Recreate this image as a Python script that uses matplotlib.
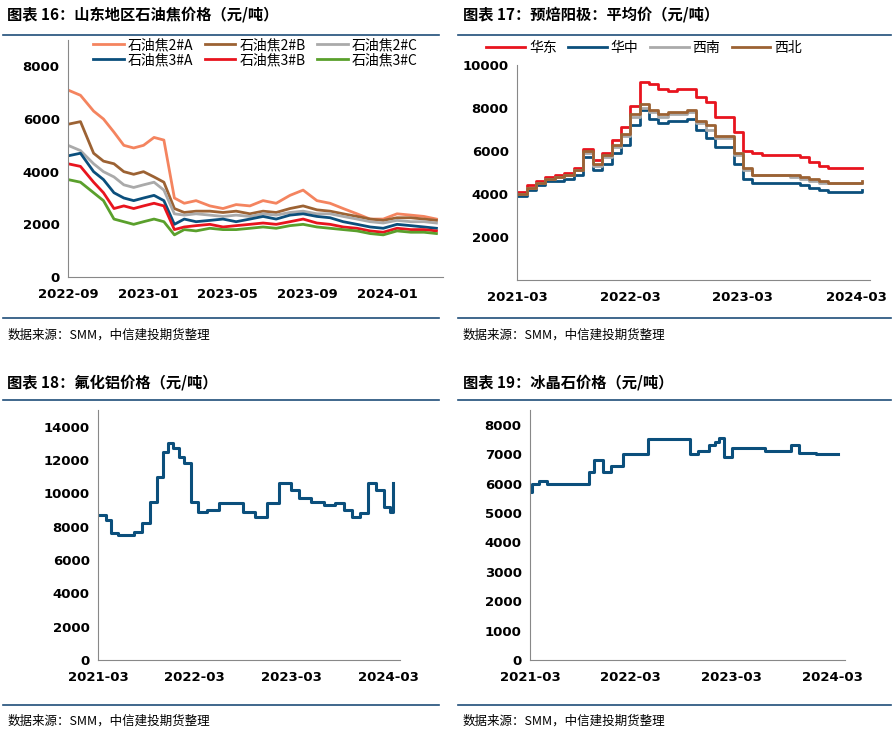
import matplotlib
matplotlib.use('Agg')
import matplotlib.pyplot as plt
import matplotlib.dates as mdates
import pandas as pd

plt.rcParams['font.family'] = ['Noto Sans CJK SC']

# ---- panel 16: petroleum coke, Shandong ----
coke_dates = ['2022-09-01','2022-09-20','2022-10-10','2022-10-25','2022-11-10','2022-11-25','2022-12-10',
              '2022-12-25','2023-01-10','2023-01-25','2023-02-10','2023-02-25','2023-03-15','2023-04-05',
              '2023-04-25','2023-05-15','2023-06-05','2023-06-25','2023-07-15','2023-08-05','2023-08-25',
              '2023-09-15','2023-10-05','2023-10-25','2023-11-15','2023-12-05','2023-12-25','2024-01-15',
              '2024-02-05','2024-02-25','2024-03-15']
coke_2a = [7100,6900,6300,6000,5500,5000,4900,5000,5300,5200,3000,2800,2900,2700,2600,2750,2700,2900,2800,3100,3300,
           2900,2800,2600,2400,2200,2200,2400,2350,2300,2200]
coke_2b = [5800,5900,4700,4400,4300,4000,3900,4000,3800,3600,2600,2450,2500,2500,2450,2500,2400,2500,2450,2600,2700,
           2550,2500,2400,2300,2200,2150,2250,2250,2200,2150]
coke_2c = [5000,4800,4300,4000,3800,3500,3400,3500,3600,3300,2400,2350,2400,2350,2300,2350,2300,2400,2350,2450,2500,
           2400,2400,2300,2200,2100,2050,2150,2100,2100,2050]
coke_3a = [4600,4700,4000,3700,3200,3000,2900,3000,3100,2900,2000,2200,2100,2150,2200,2100,2200,2300,2200,2350,2400,
           2300,2250,2100,2000,1900,1850,2000,1950,1900,1850]
coke_3b = [4300,4200,3600,3200,2600,2700,2600,2700,2800,2700,1800,1900,1950,2000,1900,1950,2000,2050,2000,2100,2200,
           2050,2000,1900,1850,1750,1700,1850,1800,1800,1750]
coke_3c = [3700,3600,3200,2900,2200,2100,2000,2100,2200,2100,1600,1800,1750,1850,1800,1800,1850,1900,1850,1950,2000,
           1900,1850,1800,1750,1650,1600,1750,1700,1700,1650]

# ---- panel 17: prebaked anode ----
anode_dates = ['2021-03-01','2021-04-01','2021-05-01','2021-06-01','2021-07-01','2021-08-01','2021-09-01','2021-10-01',
               '2021-11-01','2021-12-01','2022-01-01','2022-02-01','2022-03-01','2022-04-01','2022-05-01','2022-06-01',
               '2022-07-01','2022-08-01','2022-09-01','2022-10-01','2022-11-01','2022-12-01','2023-01-01','2023-02-01',
               '2023-03-01','2023-04-01','2023-05-01','2023-06-01','2023-07-01','2023-08-01','2023-09-01','2023-10-01',
               '2023-11-01','2023-12-01','2024-01-01','2024-02-01','2024-03-01','2024-03-20']
anode_east = [4100,4400,4600,4800,4900,5000,5200,6100,5600,5900,6500,7100,8100,9200,9100,8900,8800,8900,8900,8500,8300,
              7600,7600,6900,6000,5900,5800,5800,5800,5800,5700,5500,5300,5200,5200,5200,5200,5200]
anode_central = [3900,4200,4400,4600,4600,4700,4900,5700,5100,5400,5900,6300,7200,7900,7500,7300,7400,7400,7500,7000,6600,
                 6200,6200,5400,4700,4500,4500,4500,4500,4500,4400,4300,4200,4100,4100,4100,4100,4200]
anode_sw = [4000,4300,4500,4700,4800,4900,5100,5900,5300,5700,6200,6700,7600,8000,7800,7600,7700,7700,7800,7300,7000,
            6600,6600,5800,5100,4900,4900,4900,4900,4800,4700,4600,4500,4500,4500,4500,4500,4500]
anode_nw = [4000,4300,4500,4700,4800,4900,5100,6000,5400,5800,6300,6800,7700,8200,7900,7700,7800,7800,7900,7400,7200,
            6700,6700,5900,5200,4900,4900,4900,4900,4900,4800,4700,4600,4500,4500,4500,4500,4600]

# ---- panel 18: aluminium fluoride ----
alf_dates = ['2021-03-01','2021-04-01','2021-04-20','2021-05-15','2021-06-15','2021-07-15','2021-08-15','2021-09-15',
             '2021-10-10','2021-11-01','2021-11-20','2021-12-10','2022-01-01','2022-01-20','2022-02-15','2022-03-15',
             '2022-04-15','2022-06-01','2022-08-01','2022-09-01','2022-10-15','2022-12-01','2023-01-15','2023-03-01',
             '2023-04-01','2023-05-15','2023-07-01','2023-08-15','2023-09-15','2023-10-15','2023-11-15','2023-12-15',
             '2024-01-15','2024-02-15','2024-03-10','2024-03-20']
alf_val = [8700,8400,7600,7500,7500,7700,8200,9500,11000,12500,13000,12700,12200,11800,9500,8900,9000,9400,9400,8900,8600,
           9400,10600,10200,9700,9500,9300,9400,9000,8600,8800,10600,10200,9200,8900,10600]

# ---- panel 19: cryolite ----
cry_dates = ['2021-03-01','2021-03-10','2021-04-01','2021-05-01','2021-08-01','2021-10-01','2021-10-20','2021-11-20',
             '2021-12-20','2022-02-01','2022-03-01','2022-05-01','2022-09-01','2022-10-01','2022-11-01','2022-12-10',
             '2023-01-01','2023-01-15','2023-02-01','2023-03-01','2023-05-01','2023-07-01','2023-10-01','2023-11-01',
             '2024-01-01','2024-03-20']
cry_val = [5700,6000,6100,6000,6000,6400,6800,6400,6600,7000,7000,7500,7500,7000,7100,7300,7400,7550,6900,7200,7200,7100,
           7300,7050,7000,7000]

navy = '#0B4F7C'
sep_color = '#1F4E79'

fig = plt.figure(figsize=(8.95, 7.32), dpi=100)

def header(x0, x1, ytitle, yline, text):
    fig.text(x0, ytitle, text, fontsize=11, fontweight='bold', va='center')
    fig.add_artist(plt.Line2D([x0 - 0.005, x1], [yline, yline], color=sep_color, lw=1.2))

def footer(x0, x1, yline, ytext):
    fig.add_artist(plt.Line2D([x0 - 0.005, x1], [yline, yline], color=sep_color, lw=1.2))
    fig.text(x0, ytext, '数据来源：SMM，中信建投期货整理', fontsize=9, style='italic', va='center')

def style(ax):
    for s in ['top', 'right']:
        ax.spines[s].set_visible(False)
    ax.spines['left'].set_color('#888888')
    ax.spines['bottom'].set_color('#888888')
    ax.tick_params(axis='x', length=0, pad=8)
    ax.tick_params(axis='y', length=0, pad=6)
    for lab in ax.get_xticklabels() + ax.get_yticklabels():
        lab.set_fontweight('bold')
        lab.set_fontfamily('DejaVu Sans')
        lab.set_fontsize(9.5)

W, H = 895.0, 732.0
def rect(l, t, r, b):
    return [l / W, 1 - b / H, (r - l) / W, (b - t) / H]

header(0.008, 0.49, 1 - 15 / H, 1 - 35 / H, '图表 16：山东地区石油焦价格（元/吨）')
header(0.517, 0.995, 1 - 15 / H, 1 - 35 / H, '图表 17：预焙阳极：平均价（元/吨）')
header(0.008, 0.49, 1 - 382 / H, 1 - 400 / H, '图表 18：氟化铝价格（元/吨）')
header(0.517, 0.995, 1 - 382 / H, 1 - 400 / H, '图表 19：冰晶石价格（元/吨）')
footer(0.008, 0.49, 1 - 318 / H, 1 - 335 / H)
footer(0.517, 0.995, 1 - 318 / H, 1 - 335 / H)
footer(0.008, 0.49, 1 - 705 / H, 1 - 721 / H)
footer(0.517, 0.995, 1 - 705 / H, 1 - 721 / H)

# panel 16
ax = fig.add_axes(rect(68, 40, 443, 277))
d = pd.to_datetime(coke_dates)
series = [('石油焦2#A', coke_2a, '#F4845F'), ('石油焦2#B', coke_2b, '#9C6233'), ('石油焦2#C', coke_2c, '#AAAAAA'),
          ('石油焦3#A', coke_3a, navy), ('石油焦3#B', coke_3b, '#E8141E'), ('石油焦3#C', coke_3c, '#5AA02C')]
lines = {}
for name, v, c in series:
    lines[name], = ax.plot(d, v, color=c, lw=2, label=name)
order = ['石油焦2#A', '石油焦3#A', '石油焦2#B', '石油焦3#B', '石油焦2#C', '石油焦3#C']
ax.set_ylim(0, 9000)
ax.set_yticks(range(0, 8001, 2000))
ax.set_xlim(pd.Timestamp('2022-09-01'), pd.Timestamp('2024-03-25'))
ax.set_xticks(pd.to_datetime(['2022-09-01', '2023-01-01', '2023-05-01', '2023-09-01', '2024-01-01']))
ax.xaxis.set_major_formatter(mdates.DateFormatter('%Y-%m'))
ax.legend([lines[k] for k in order], order, ncol=3, loc='upper center', bbox_to_anchor=(0.5, 1.06),
          frameon=False, fontsize=10, handlelength=2.2, columnspacing=0.8, handletextpad=0.3, labelspacing=0.05)
style(ax)

# panel 17
ax = fig.add_axes(rect(517, 65, 870, 280))
d = pd.to_datetime(anode_dates)
for name, v, c in [('华东', anode_east, '#E8141E'), ('华中', anode_central, navy),
                   ('西南', anode_sw, '#AAAAAA'), ('西北', anode_nw, '#9C6233')]:
    ax.step(d, v, where='post', color=c, lw=2, label=name)
ax.set_ylim(0, 10000)
ax.set_yticks(range(2000, 10001, 2000))
ax.set_xlim(pd.Timestamp('2021-03-01'), pd.Timestamp('2024-04-15'))
ax.set_xticks(pd.to_datetime(['2021-03-01', '2022-03-01', '2023-03-01', '2024-03-01']))
ax.xaxis.set_major_formatter(mdates.DateFormatter('%Y-%m'))
ax.legend(ncol=4, loc='upper center', bbox_to_anchor=(0.36, 1.17), frameon=False, fontsize=10,
          handlelength=2.8, columnspacing=0.8, handletextpad=0.3)
style(ax)

# panel 18
ax = fig.add_axes(rect(98, 410, 400, 660))
ax.step(pd.to_datetime(alf_dates), alf_val, where='post', color=navy, lw=2.2)
ax.set_ylim(0, 15000)
ax.set_yticks(range(0, 14001, 2000))
ax.set_xlim(pd.Timestamp('2021-03-01'), pd.Timestamp('2024-04-15'))
ax.set_xticks(pd.to_datetime(['2021-03-01', '2022-03-01', '2023-03-01', '2024-03-01']))
ax.xaxis.set_major_formatter(mdates.DateFormatter('%Y-%m'))
style(ax)

# panel 19
ax = fig.add_axes(rect(530, 410, 845, 660))
ax.step(pd.to_datetime(cry_dates), cry_val, where='post', color=navy, lw=2.2)
ax.set_ylim(0, 8500)
ax.set_yticks(range(0, 8001, 1000))
ax.set_xlim(pd.Timestamp('2021-03-01'), pd.Timestamp('2024-04-15'))
ax.set_xticks(pd.to_datetime(['2021-03-01', '2022-03-01', '2023-03-01', '2024-03-01']))
ax.xaxis.set_major_formatter(mdates.DateFormatter('%Y-%m'))
style(ax)

fig.savefig('out.png', dpi=100)
